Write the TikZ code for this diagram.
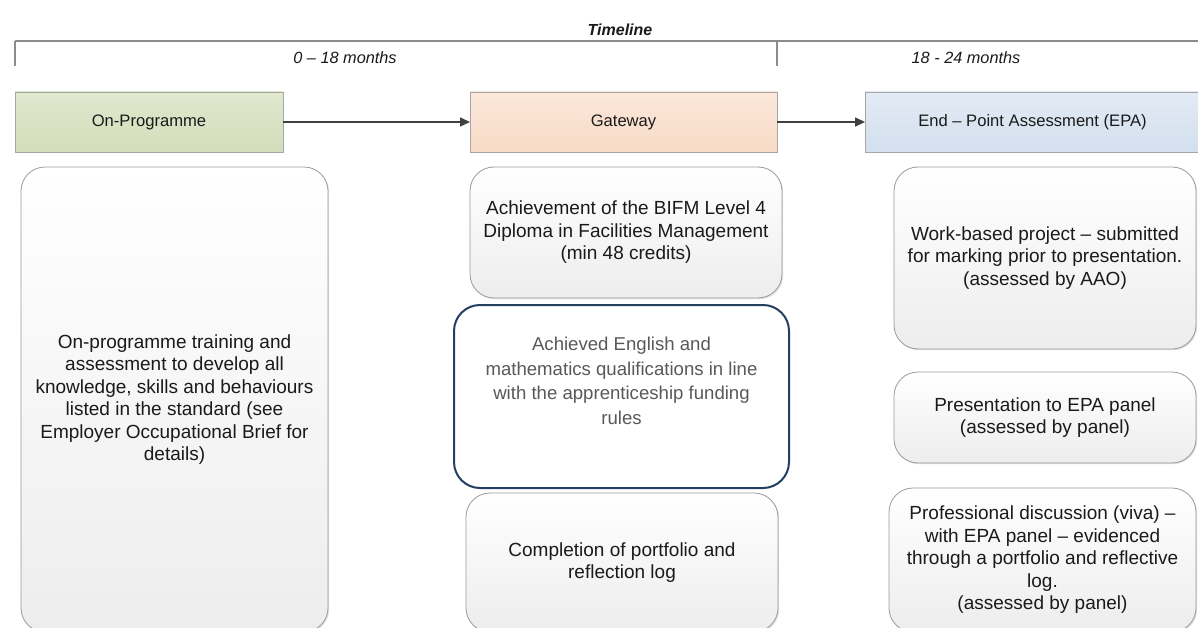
\documentclass[tikz,border=0pt]{standalone}
\usepackage{fontspec}
\setmainfont{Liberation Sans}
\usetikzlibrary{arrows.meta,shadows}
\definecolor{txt}{HTML}{1A1A1A}
\definecolor{graytxt}{HTML}{595959}
\definecolor{tline}{HTML}{8C8C8C}
\definecolor{hdrline}{HTML}{A6A6A6}
\definecolor{boxline}{HTML}{9A9A9A}
\definecolor{boxbot}{HTML}{EDEDED}
\definecolor{navy}{HTML}{243F60}
\definecolor{arrowc}{HTML}{404040}
\definecolor{greentop}{HTML}{E0E8CE}
\definecolor{greenbot}{HTML}{D3DDBA}
\definecolor{peachtop}{HTML}{FCE8DA}
\definecolor{peachbot}{HTML}{F7DAC6}
\definecolor{bluetop}{HTML}{E3EBF5}
\definecolor{bluebot}{HTML}{D3DFEE}
\begin{document}
\begin{tikzpicture}[x=1pt,y=-1pt,
  every node/.style={inner sep=0pt,outer sep=0pt},
  hdr/.style={draw=hdrline,line width=0.8pt,minimum height=60pt,
    font=\fontsize{16.6}{20}\selectfont,text=txt,
    drop shadow={shadow xshift=1pt,shadow yshift=-1pt,opacity=0.2}},
  lowbox/.style={draw=boxline,line width=0.8pt,rounded corners=24pt,
    top color=white,bottom color=boxbot,align=center,
    font=\fontsize{19}{22.5}\selectfont,text=txt,
    drop shadow={shadow xshift=1.2pt,shadow yshift=-1.2pt,opacity=0.25}},
  navybox/.style={draw=navy,line width=2pt,rounded corners=26pt,fill=white,
    align=center,font=\fontsize{18.6}{24.5}\selectfont,text=graytxt},
  conn/.style={draw=arrowc,line width=1.5pt,-{Triangle[length=10pt,width=9pt]}},
  period/.style={font=\fontsize{16.3}{20}\selectfont\itshape,text=txt},
  tl/.style={draw=tline,line width=1.3pt}]
\useasboundingbox (0,0) rectangle (1198,628);
\clip (0,0) rectangle (1198,628);

% timeline
\node[font=\fontsize{16}{20}\selectfont\bfseries\itshape,text=txt] (title) at (620,30) {Timeline};
\coordinate (tlL) at (15,41);
\coordinate (tlR) at (1198,41);
\coordinate (tlM) at (777,41);
\coordinate (tlLb) at (15,66);
\coordinate (tlMb) at (777,66);
\draw[tl] (tlL) -- (tlR);
\draw[tl] (tlL) -- (tlLb);
\draw[tl] (tlM) -- (tlMb);
\node[period] (p1) at (345,58) {0 -- 18 months};
\node[period] (p2) at (966,58) {18 - 24 months};

% header boxes
\node[hdr,top color=greentop,bottom color=greenbot,minimum width=268pt] (onprog) at (149,122) {On-Programme};
\node[hdr,top color=peachtop,bottom color=peachbot,minimum width=307pt] (gate) at (623.5,122) {Gateway};
\node[hdr,top color=bluetop,bottom color=bluebot,minimum width=335pt] (epa) at (1032.5,122) {End -- Point Assessment (EPA)};
\draw[conn] (onprog) -- (gate);
\draw[conn] (gate) -- (epa);

% on-programme body
\node[lowbox,minimum width=307pt,minimum height=465pt] (onbody) at (174.5,399.5)
  {On-programme training and\\assessment to develop all\\knowledge, skills and behaviours\\listed in the standard (see\\Employer Occupational Brief for\\details)};

% gateway column
\node[lowbox,minimum width=312pt,minimum height=131pt] (g1) at (626,232.5)
  {Achievement of the BIFM Level 4\\Diploma in Facilities Management\\(min 48 credits)};
\node[navybox,minimum width=335pt,minimum height=183pt] (g2) at (621.5,396.5)
  {Achieved English and\\mathematics qualifications in line\\with the apprenticeship funding\\rules\\\strut};
\node[lowbox,minimum width=312pt,minimum height=139pt] (g3) at (622,562.5)
  {Completion of portfolio and\\reflection log};

% EPA column
\node[lowbox,minimum width=302pt,minimum height=182pt] (e1) at (1045,258)
  {Work-based project -- submitted\\for marking prior to presentation.\\(assessed by AAO)};
\node[lowbox,minimum width=302pt,minimum height=91pt] (e2) at (1045,417.5)
  {Presentation to EPA panel\\(assessed by panel)};
\node[lowbox,minimum width=307pt,minimum height=144pt] (e3) at (1042.5,560)
  {Professional discussion (viva) --\\with EPA panel -- evidenced\\through a portfolio and reflective\\log.\\(assessed by panel)};
\end{tikzpicture}
\end{document}
